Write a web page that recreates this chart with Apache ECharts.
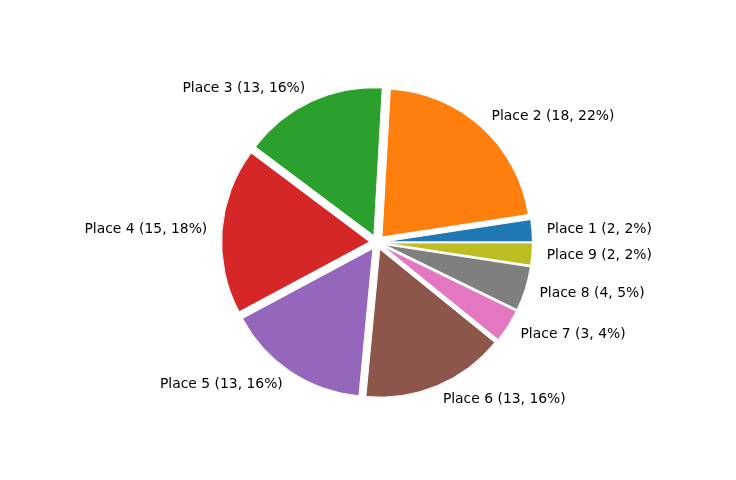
<!DOCTYPE html>
<html>
<head>
<meta charset="utf-8">
<script src="https://cdn.jsdelivr.net/npm/echarts@6/dist/echarts.min.js"></script>
<style>html,body{margin:0;padding:0;background:#fff;}#c{width:736px;height:480px;}</style>
</head>
<body>
<div id="c"></div>
<script>
const categories = ['Place 1','Place 2','Place 3','Place 4','Place 5','Place 6','Place 7','Place 8','Place 9'];
const values = [2, 18, 13, 15, 13, 13, 3, 4, 2];
const colors = ['#1f77b4','#ff7f0e','#2ca02c','#d62728','#9467bd','#8c564b','#e377c2','#7f7f7f','#bcbd22'];

const R = 148;
const chart = echarts.init(document.getElementById('c'), null, {renderer: 'canvas'});
chart.setOption({
  animation: false,
  backgroundColor: '#fff',
  series: [{
    type: 'pie',
    center: [377, 242.4],
    radius: [0, R],
    startAngle: 0,
    clockwise: false,
    selectedMode: 'multiple',
    selectedOffset: 7.4,
    avoidLabelOverlap: false,
    silent: true,
    itemStyle: {borderColor: '#fff', borderWidth: 1},
    label: {
      show: true,
      position: 'outside',
      color: '#000',
      fontFamily: 'DejaVu Sans',
      fontSize: 13.9,
      padding: [3, 0, 0, 0],
      distanceToLabelLine: 0,
      formatter: p => `${p.name} (${p.value}, ${Math.round(p.percent)}%)`
    },
    labelLine: {show: false, length: 14.8, length2: 0},
    data: categories.map((n, i) => ({name: n, value: values[i], selected: true, itemStyle: {color: colors[i]}}))
  }]
});
</script>
</body>
</html>
